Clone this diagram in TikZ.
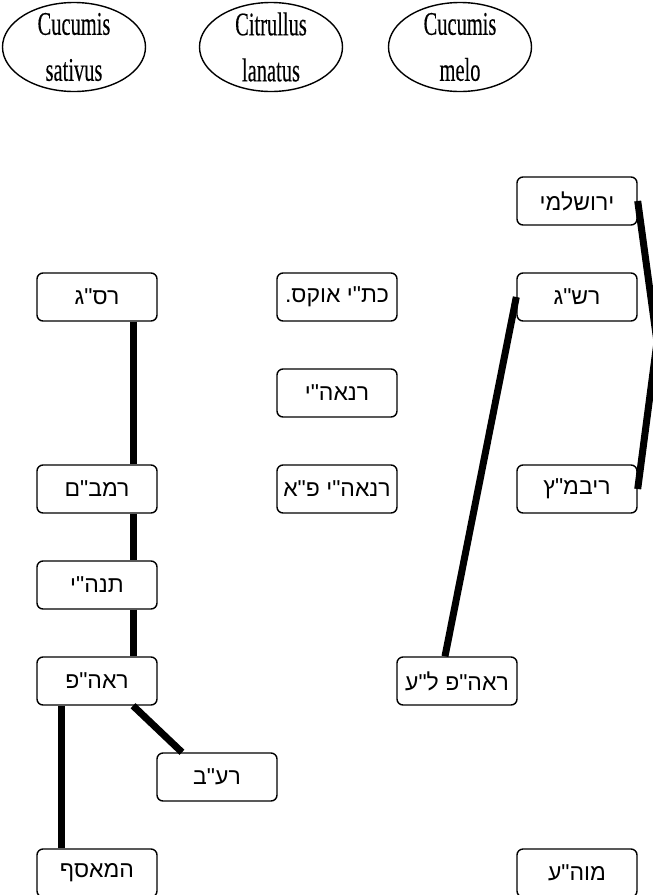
\documentclass[tikz,border=0pt]{standalone}
\usepackage{fontspec}
\usetikzlibrary{positioning,shapes.geometric}
\TeXXeTstate=1
\newfontfamily\latinfont[FakeStretch=0.62,FakeBold=0.25]{Liberation Serif}
\newfontfamily\hebfont[Script=Hebrew]{Liberation Sans}
\newcommand{\heb}[1]{\beginR #1\endR}
\tikzset{
    species/.style = {
        draw,
        shape=ellipse,
        minimum width=143pt,
        minimum height=89pt,
        line width=1.4pt
    },
    source/.style = {
        draw,
        shape=rectangle,
        minimum width=120pt,
        minimum height=48pt,
        inner sep=1pt,
        line width=1.4pt,
        rounded corners=6pt,
        font=\hebfont\fontsize{23}{26}\selectfont
    },
    link/.style = {
        draw,
        line width=7pt
    },
    spname/.style = {
        align=center,
        font=\latinfont\fontsize{33}{46}\selectfont
    }
}

\begin{document}
\begin{tikzpicture}[x=1pt,y=-1pt]
            \useasboundingbox (0,0) rectangle (653,895);

            \node[species, label={[spname]center:Cucumis\\sativus}] (sativus) at (74,47) {};
            \node[species, label={[spname]center:Citrullus\\lanatus}] (lanatus) at (271,47) {};
            \node[species, label={[spname]center:Cucumis\\melo}] (melo) at (460,47) {};

            % Cucumis sativus
            \node[source] (rsg) at (97,297) {\heb{רס"ג}};
            \node[source] (rambam) at (97,489) {\heb{רמב"ם}};
            \node[source] (tnhy) at (97,585) {\heb{תנה"י}};
            \node[source] (raahp) at (97,681) {\heb{ראה"פ}};
            \node[source] (raav) at (217,777) {\heb{רע"ב}};
            \node[source] (measef) at (97,873) {\heb{המאסף}};

            % Citrullus lanatus
            \node[source] (oxford) at (337,297) {\heb{כת"י אוקס.}};
            \node[source] (rnahy) at (337,393) {\heb{רנאה"י}};
            \node[source] (rnahypa) at (337,489) {\heb{רנאה"י פ"א}};

            % Cucumis melo
            \node[source] (yerushalmi) at (577,201) {\heb{ירושלמי}};
            \node[source] (rashag) at (577,297) {\heb{רש"ג}};
            \node[source] (ribmatz) at (577,489) {\heb{ריבמ"ץ}};
            \node[source] (raahpla) at (457,681) {\heb{ראה"פ ל"ע}};
            \node[source] (mohe) at (577,873) {\heb{מוה"ע}};

            \coordinate (bend) at (657,342);

            \path[link] ([xshift=36pt]rsg.south) -- ([xshift=36pt]rambam.north);
            \path[link] ([xshift=36pt]rambam.south) -- ([xshift=36pt]tnhy.north);
            \path[link] ([xshift=36pt]tnhy.south) -- ([xshift=36pt]raahp.north);
            \path[link] ([xshift=-36pt]raahp.south) -- ([xshift=-36pt]measef.north);
            \path[link] ([xshift=36pt]raahp.south) -- ([xshift=-35pt]raav.north);

            \path[link] (rashag.west) -- ([xshift=-12pt]raahpla.north);
            \path[link] (yerushalmi.east) -- (bend) -- (ribmatz.east);

        \end{tikzpicture}
\end{document}
